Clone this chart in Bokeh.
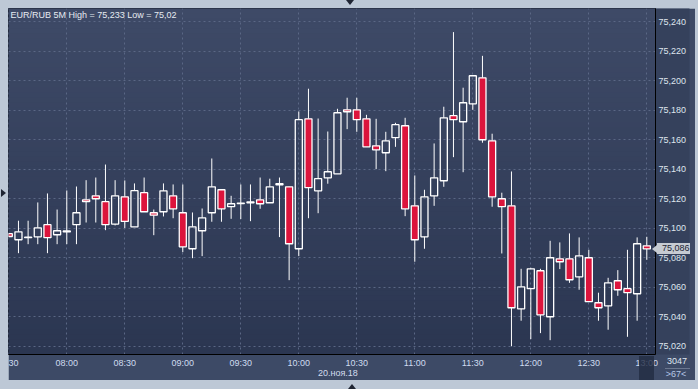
import numpy as np
import pandas as pd
from bokeh.plotting import figure
from bokeh.models import FixedTicker, Label, Range1d, ColumnDataSource, LinearAxis, Div
from bokeh.layouts import column
from bokeh.embed import file_html
from bokeh.resources import INLINE

# ---------------- data ----------------
times = [t.strftime("%H:%M") for t in
         pd.date_range("2018-11-20 07:30", "2018-11-20 13:00", freq="5min")]

open_ = [75.0963, 75.0922, 75.0936, 75.0942, 75.1024, 75.0956, 75.0975, 75.1024, 75.1193, 75.1220,
         75.1180, 75.1028, 75.1213, 75.1009, 75.1241, 75.1105, 75.1112, 75.1220, 75.1105, 75.0861,
         75.0983, 75.1105, 75.1261, 75.1146, 75.1167, 75.1173, 75.1193, 75.1173, 75.1295, 75.1281,
         75.0861, 75.1742, 75.1254, 75.1342, 75.1369, 75.1803, 75.1803, 75.1742, 75.1559, 75.1512,
         75.1614, 75.1695, 75.1152, 75.0942, 75.1220, 75.1322, 75.1763, 75.1722, 75.1844, 75.2020,
         75.1593, 75.1200, 75.1152, 75.0454, 75.0590, 75.0712, 75.0400, 75.0793, 75.0793, 75.0671,
         75.0800, 75.0495, 75.0474, 75.0644, 75.0590, 75.0556, 75.0881]
high = [75.0966, 75.1051, 75.1051, 75.1175, 75.1236, 75.1127, 75.1256, 75.1283, 75.1326, 75.1344,
        75.1432, 75.1326, 75.1324, 75.1304, 75.1344, 75.1127, 75.1304, 75.1297, 75.1297, 75.1107,
        75.1134, 75.1473, 75.1264, 75.1220, 75.1297, 75.1297, 75.1344, 75.1336, 75.1344, 75.1283,
        75.1792, 75.1946, 75.1744, 75.1656, 75.1810, 75.1885, 75.1885, 75.1769, 75.1742, 75.1654,
        75.1715, 75.1749, 75.1358, 75.1261, 75.1575, 75.1824, 75.2330, 75.1953, 75.2034, 75.2169,
        75.1641, 75.1241, 75.1385, 75.0725, 75.0732, 75.0725, 75.0915, 75.0904, 75.0965, 75.0938,
        75.0854, 75.0563, 75.0664, 75.0716, 75.0854, 75.0938, 75.0942]
low = [75.0940, 75.0831, 75.0892, 75.0892, 75.0831, 75.0892, 75.0892, 75.0892, 75.1039, 75.1039,
       75.0987, 75.1019, 75.1002, 75.1009, 75.1112, 75.0953, 75.1080, 75.1068, 75.0838, 75.0797,
       75.0811, 75.1044, 75.1044, 75.1064, 75.1062, 75.1048, 75.1132, 75.1173, 75.0940, 75.0648,
       75.0811, 75.1068, 75.1102, 75.1302, 75.1369, 75.1672, 75.1654, 75.1552, 75.1401, 75.1387,
       75.1552, 75.1082, 75.0773, 75.0861, 75.1152, 75.1281, 75.1482, 75.1380, 75.1803, 75.1580,
       75.1146, 75.0829, 75.0200, 75.0373, 75.0248, 75.0289, 75.0241, 75.0723, 75.0630, 75.0583,
       75.0502, 75.0373, 75.0312, 75.0542, 75.0264, 75.0373, 75.0786]
close = [75.0944, 75.0976, 75.0939, 75.1003, 75.0936, 75.0983, 75.0982, 75.1105, 75.1180, 75.1200,
         75.1024, 75.1220, 75.1046, 75.1255, 75.1112, 75.1089, 75.1254, 75.1132, 75.0874, 75.1010,
         75.1071, 75.1281, 75.1132, 75.1166, 75.1171, 75.1178, 75.1166, 75.1281, 75.1302, 75.0895,
         75.1736, 75.1275, 75.1336, 75.1383, 75.1783, 75.1790, 75.1736, 75.1552, 75.1532, 75.1593,
         75.1702, 75.1132, 75.0922, 75.1213, 75.1342, 75.1749, 75.1736, 75.1851, 75.2034, 75.1600,
         75.1213, 75.1146, 75.0461, 75.0603, 75.0725, 75.0413, 75.0800, 75.0773, 75.0651, 75.0813,
         75.0502, 75.0461, 75.0630, 75.0583, 75.0563, 75.0895, 75.0860]

y_ticks = [75.02, 75.04, 75.06, 75.08, 75.10, 75.12, 75.14, 75.16, 75.18, 75.20, 75.22, 75.24]
y_tick_labels = ["75,020", "75,040", "75,060", "75,080", "75,100", "75,120",
                 "75,140", "75,160", "75,180", "75,200", "75,220", "75,240"]
x_tick_times = ["07:30", "08:00", "08:30", "09:00", "09:30", "10:00",
                "10:30", "11:00", "11:30", "12:00", "12:30", "13:00"]
x_tick_labels = ["30", "08:00", "08:30", "09:00", "09:30", "10:00",
                 "10:30", "11:00", "11:30", "12:00", "12:30", "13:00"]

title_text = "EUR/RUB 5M High = 75,233 Low = 75,02"
date_text = "20.ноя.18"
last_price_text = "75,086"
corner_top_text = "3047"
corner_bottom_text = "&gt;67&lt;"

# ---------------- helpers ----------------
def to_min(s):
    h, m = s.split(":")
    return int(h) * 60 + int(m)

x = [to_min(t) for t in times]
x_ticks = [to_min(t) for t in x_tick_times]

o = np.array(open_); c = np.array(close); h = np.array(high); l = np.array(low)
body_top = np.maximum(o, c)
body_bot = np.minimum(o, c)
rising = c >= o

RED = "#dc143c"
WHITE = "#ffffff"

src = ColumnDataSource(dict(
    x=x, top=body_top, bottom=body_bot, high=h, low=l,
    fill=[RED if not r else "#000000" for r in rising],
    alpha=[0.0 if r else 1.0 for r in rising],
))

x0, x1 = x[0] - 0.15, x[-1] + 4.5
y0, y1 = 75.0144, 75.2490
PX_PER_MIN = 1.9333

p = figure(width=687, height=372, output_backend="svg", toolbar_location=None,
           x_range=Range1d(x0, x1), y_range=Range1d(y0, y1),
           y_axis_location="right", min_border_left=0, min_border_top=0,
           min_border_right=40, min_border_bottom=26)
p.border_fill_color = "#3d4a66"
p.background_fill_color = "#35415d"
p.outline_line_color = "#1a2030"

# background gradient bands
n = 70
ys = np.linspace(y0, y1, n + 1)
ctop = np.array([0x3e, 0x4a, 0x67]); cbot = np.array([0x2b, 0x36, 0x51])
cols = []
for i in range(n):
    t = (i + 0.5) / n
    cc = (cbot + (ctop - cbot) * t).round().astype(int)
    cols.append("#%02x%02x%02x" % tuple(cc))
p.quad(left=x0, right=x1, bottom=ys[:-1], top=ys[1:] + (y1 - y0) / n * 0.3,
       fill_color=cols, line_color=None, level="image")

# grid
p.xgrid.ticker = FixedTicker(ticks=x_ticks)
p.ygrid.ticker = FixedTicker(ticks=y_ticks)
for g in (p.xgrid, p.ygrid):
    g.grid_line_color = "#5a6785"
    g.grid_line_dash = "2 3"
    g.grid_line_width = 1

# wicks
p.segment(x0="x", x1="x", y0="top", y1="high", source=src, line_color=WHITE, line_width=1)
p.segment(x0="x", x1="x", y0="bottom", y1="low", source=src, line_color=WHITE, line_width=1)
# bodies
p.vbar(x="x", width=3.65, top="top", bottom="bottom", source=src,
       fill_color="fill", fill_alpha="alpha", line_color=WHITE, line_width=1.3)

# axes
ya = p.yaxis[0]
ya.ticker = FixedTicker(ticks=y_ticks)
ya.major_label_overrides = {t: s for t, s in zip(y_ticks, y_tick_labels)}
ya.major_tick_out = 0; ya.major_tick_in = 0; ya.minor_tick_out = 0; ya.minor_tick_in = 0
ya.axis_line_color = "#000000"
ya.major_label_standoff = 3
ya.major_label_text_font = "Liberation Sans"
ya.major_label_text_font_size = "9px"
ya.major_label_text_color = "#dfe5ee"
ya.background_fill_color = "#35415c"

xa = p.xaxis[0]
xa.ticker = FixedTicker(ticks=x_ticks)
xa.major_label_overrides = {t: s for t, s in zip(x_ticks, x_tick_labels)}
xa.major_tick_out = 0; xa.major_tick_in = 0; xa.minor_tick_out = 0; xa.minor_tick_in = 0
xa.axis_line_color = "#000000"
xa.major_label_standoff = 3
xa.major_label_text_font = "Liberation Sans"
xa.major_label_text_font_size = "9px"
xa.major_label_text_color = "#cfdcf0"

# date line under the time labels (second x axis)
date_x = x0 + (337.4 - 8) / PX_PER_MIN
xa2 = LinearAxis(ticker=FixedTicker(ticks=[date_x]),
                 major_label_overrides={date_x: date_text})
xa2.axis_line_color = None
xa2.major_tick_out = 0; xa2.major_tick_in = 0; xa2.minor_tick_out = 0; xa2.minor_tick_in = 0
xa2.major_label_standoff = -3
xa2.major_label_text_font = "Liberation Sans"
xa2.major_label_text_font_size = "9px"
xa2.major_label_text_color = "#d3ddee"
p.add_layout(xa2, "below")

# title inside the chart
p.add_layout(Label(x=x0, y=y1, x_offset=2, y_offset=-1, text=title_text,
                   text_baseline="top", text_align="left", text_font="Liberation Sans",
                   text_font_size="9px", text_color="#e6eaf1"))

# overlay: price tag, corner counters, scroll marker, window arrows
FONT = "font-family:'Liberation Sans',Arial,sans-serif;font-size:9px;"
html = f"""
<div style="position:relative;width:698px;height:389px;{FONT}">
  <div style="position:absolute;left:346px;top:0px;width:0;height:0;border-left:4px solid transparent;border-right:4px solid transparent;border-top:5px solid #1f2533;"></div>
  <div style="position:absolute;left:1px;top:189px;width:0;height:0;border-top:4px solid transparent;border-bottom:4px solid transparent;border-left:5px solid #1f2533;"></div>
  <div style="position:absolute;left:348px;top:384px;width:0;height:0;border-left:4.5px solid transparent;border-right:4.5px solid transparent;border-bottom:5px solid #1f2533;"></div>
  <div style="position:absolute;left:639px;top:356px;width:15px;height:24px;background:#222c42;opacity:0.8;"></div>
  <div style="position:absolute;left:652px;top:244.5px;width:0;height:0;border-top:4.5px solid transparent;border-bottom:4.5px solid transparent;border-right:5px solid #c6cbd2;"></div>
  <div style="position:absolute;left:657px;top:243.3px;width:33px;height:10.7px;line-height:10.7px;padding-left:5px;background:#c6cbd2;color:#1d2433;">{last_price_text}</div>
  <div style="position:absolute;left:662px;top:356px;width:30px;height:11px;line-height:11px;text-align:center;color:#dfe6f1;">{corner_top_text}</div>
  <div style="position:absolute;left:665px;top:367.5px;width:25px;height:1px;background:#6b778f;"></div>
  <div style="position:absolute;left:661px;top:368.5px;width:30px;height:11px;line-height:11px;text-align:center;color:#b5c7e6;">{corner_bottom_text}</div>
</div>
"""
ov = Div(text=html, width=698, height=389,
         styles={"margin-top": "-380px", "margin-left": "-8px", "margin-bottom": "-9px",
                 "pointer-events": "none"})

lay = column(p, ov, styles={"background-color": "#bdc8d6", "padding": "8px 3px 9px 8px"})

open("out.html", "w").write(file_html(lay, INLINE))
